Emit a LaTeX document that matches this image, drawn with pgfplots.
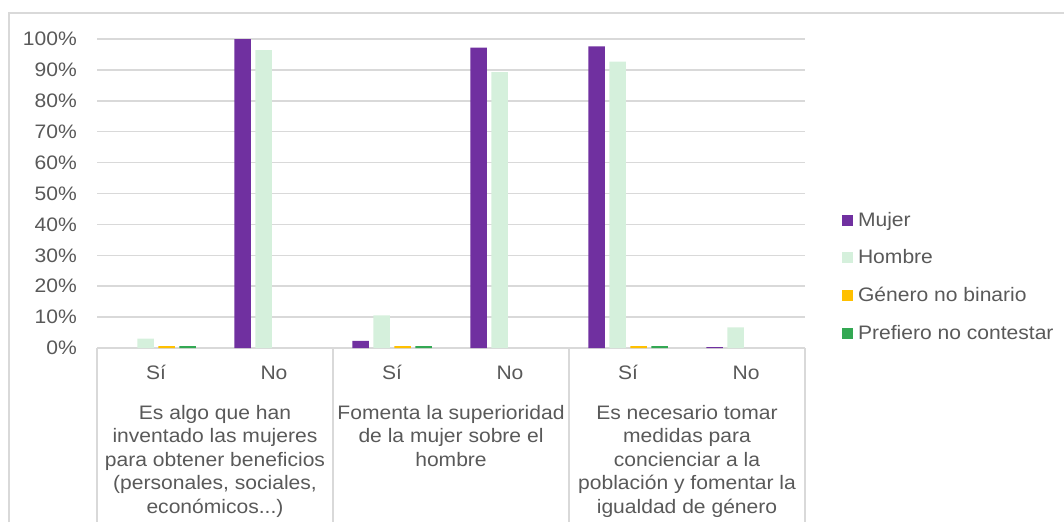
\documentclass[border=0pt]{standalone}
\usepackage{fontspec}
\setmainfont{Liberation Sans}[FakeStretch=1.08]
\usepackage{pgfplots}
\pgfplotsset{compat=1.18}
\definecolor{mujer}{HTML}{7030A0}
\definecolor{hombre}{HTML}{D5F0DC}
\definecolor{gnb}{HTML}{FFC000}
\definecolor{pref}{HTML}{33A853}
\definecolor{txt}{HTML}{595959}
\definecolor{gridc}{HTML}{D9D9D9}
\newcommand{\fs}{\fontsize{19.5}{23.5}\selectfont}
\begin{document}
\begin{tikzpicture}[x=1pt,y=1pt]
\useasboundingbox (0pt,0pt) rectangle (1064pt,-527pt);
\draw[gridc, line width=1.5pt] (9pt,-522pt) -- (9pt,-13pt) -- (1070pt,-13pt);
\begin{axis}[
  at={(97pt,-348pt)}, anchor=south west,
  scale only axis, width=708pt, height=309pt,
  ymin=0, ymax=100, xmin=-0.5, xmax=5.5,
  ybar=4.5pt, bar width=16.5pt,
  clip=false,
  unbounded coords=discard,
  y filter/.expression={y==0 ? nan : y},
  axis line style={draw=none},
  major tick length=0pt,
  ytick={0,10,...,100},
  /pgf/number format/assume math mode=true,
  yticklabel={\pgfmathprintnumber{\tick}\%},
  yticklabel style={inner sep=0pt, anchor=east, xshift=-20pt},
  xtick={0,1,2,3,4,5},
  xticklabels={Sí,No,Sí,No,Sí,No},
  xticklabel style={inner sep=0pt, anchor=base, yshift=-31pt},
  every tick label/.append style={font=\fs, text=txt},
  ymajorgrids, grid style={gridc, line width=1.5pt},
  legend style={at={(1.0523,0.228)}, anchor=west, draw=none, fill=none,
    inner sep=0pt, outer sep=0pt, font=\fs, text=txt,
    nodes={inner sep=0pt, text height=14pt, text depth=4pt},
    row sep=19.7pt,
    /tikz/every odd column/.append style={column sep=5pt}},
  legend cell align=left,
  legend image code/.code={\fill[#1] (0pt,-4.5pt) rectangle (11pt,6.5pt);},
]
\addplot[fill=mujer, draw=none] coordinates {(0,0) (1,100) (2,2.3) (3,97.2) (4,97.6) (5,0.3)};
\addplot[fill=hombre, draw=none] coordinates {(0,3.0) (1,96.4) (2,10.6) (3,89.3) (4,92.7) (5,6.7)};
\addplot[fill=gnb, draw=none] coordinates {(0,0.6) (1,0) (2,0.6) (3,0) (4,0.6) (5,0)};
\addplot[fill=pref, draw=none] coordinates {(0,0.6) (1,0) (2,0.6) (3,0) (4,0.6) (5,0)};
\legend{Mujer,Hombre,Género no binario,Prefiero no contestar}
\coordinate (s0) at (axis cs:-0.5,0);
\coordinate (s1) at (axis cs:1.5,0);
\coordinate (s2) at (axis cs:3.5,0);
\coordinate (s3) at (axis cs:5.5,0);
\coordinate (g0) at (axis cs:0.5,0);
\coordinate (g1) at (axis cs:2.5,0);
\coordinate (g2) at (axis cs:4.5,0);
\end{axis}
\foreach \s in {s0,s1,s2,s3} \draw[gridc, line width=1.5pt] (\s) -- ++(0pt,-174pt);
\begin{scope}[every node/.style={font=\fs, text=txt, align=center, anchor=base, inner sep=0pt}]
\node at ([yshift=-165pt]g0) {Es algo que han\\inventado las mujeres\\para obtener beneficios\\(personales, sociales,\\económicos...)};
\node at ([yshift=-118pt]g1) {Fomenta la superioridad\\de la mujer sobre el\\hombre};
\node at ([yshift=-165pt]g2) {Es necesario tomar\\medidas para\\concienciar a la\\población y fomentar la\\igualdad de género};
\end{scope}
\end{tikzpicture}
\end{document}
